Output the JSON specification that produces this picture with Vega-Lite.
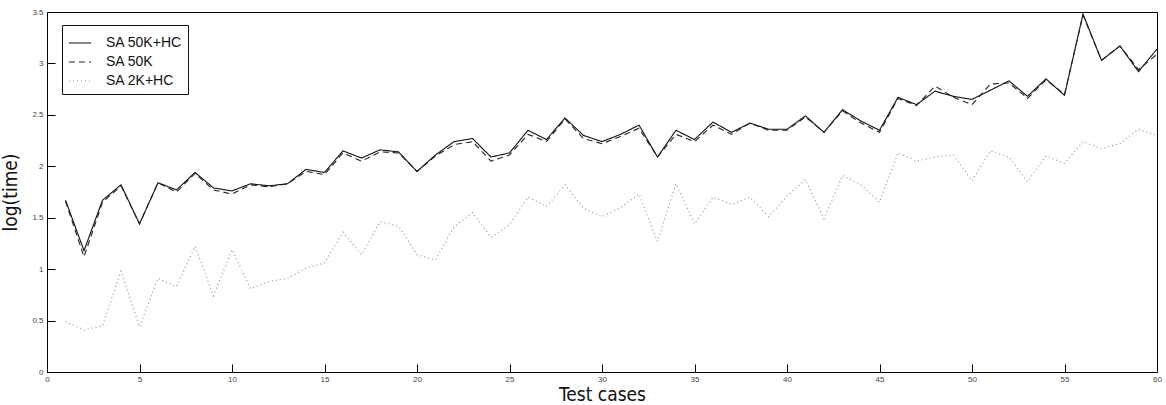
{
  "$schema": "https://vega.github.io/schema/vega-lite/v6.json",
  "width": 1110,
  "height": 360,
  "autosize": {"type": "none"},
  "padding": {"left": 47, "top": 12, "right": 9, "bottom": 33},
  "background": "white",
  "config": {
    "view": {"stroke": "black", "strokeWidth": 1},
    "axis": {
      "labelFont": "Liberation Sans",
      "labelFontSize": 8,
      "labelColor": "#444",
      "titleFont": "DejaVu Sans Condensed, Liberation Sans",
      "titleFontSize": 19,
      "titleFontWeight": "normal",
      "titleColor": "#111"
    }
  },
  "data": {"values": [
    {"x":1,"s":"SA 50K+HC","v":1.67},{"x":2,"s":"SA 50K+HC","v":1.18},{"x":3,"s":"SA 50K+HC","v":1.67},{"x":4,"s":"SA 50K+HC","v":1.82},{"x":5,"s":"SA 50K+HC","v":1.44},
    {"x":6,"s":"SA 50K+HC","v":1.84},{"x":7,"s":"SA 50K+HC","v":1.77},{"x":8,"s":"SA 50K+HC","v":1.94},{"x":9,"s":"SA 50K+HC","v":1.79},{"x":10,"s":"SA 50K+HC","v":1.76},
    {"x":11,"s":"SA 50K+HC","v":1.83},{"x":12,"s":"SA 50K+HC","v":1.81},{"x":13,"s":"SA 50K+HC","v":1.83},{"x":14,"s":"SA 50K+HC","v":1.97},{"x":15,"s":"SA 50K+HC","v":1.94},
    {"x":16,"s":"SA 50K+HC","v":2.15},{"x":17,"s":"SA 50K+HC","v":2.08},{"x":18,"s":"SA 50K+HC","v":2.16},{"x":19,"s":"SA 50K+HC","v":2.14},{"x":20,"s":"SA 50K+HC","v":1.95},
    {"x":21,"s":"SA 50K+HC","v":2.11},{"x":22,"s":"SA 50K+HC","v":2.24},{"x":23,"s":"SA 50K+HC","v":2.27},{"x":24,"s":"SA 50K+HC","v":2.09},{"x":25,"s":"SA 50K+HC","v":2.13},
    {"x":26,"s":"SA 50K+HC","v":2.35},{"x":27,"s":"SA 50K+HC","v":2.26},{"x":28,"s":"SA 50K+HC","v":2.47},{"x":29,"s":"SA 50K+HC","v":2.30},{"x":30,"s":"SA 50K+HC","v":2.24},
    {"x":31,"s":"SA 50K+HC","v":2.31},{"x":32,"s":"SA 50K+HC","v":2.40},{"x":33,"s":"SA 50K+HC","v":2.09},{"x":34,"s":"SA 50K+HC","v":2.35},{"x":35,"s":"SA 50K+HC","v":2.26},
    {"x":36,"s":"SA 50K+HC","v":2.43},{"x":37,"s":"SA 50K+HC","v":2.33},{"x":38,"s":"SA 50K+HC","v":2.42},{"x":39,"s":"SA 50K+HC","v":2.36},{"x":40,"s":"SA 50K+HC","v":2.36},
    {"x":41,"s":"SA 50K+HC","v":2.49},{"x":42,"s":"SA 50K+HC","v":2.33},{"x":43,"s":"SA 50K+HC","v":2.55},{"x":44,"s":"SA 50K+HC","v":2.44},{"x":45,"s":"SA 50K+HC","v":2.35},
    {"x":46,"s":"SA 50K+HC","v":2.67},{"x":47,"s":"SA 50K+HC","v":2.60},{"x":48,"s":"SA 50K+HC","v":2.73},{"x":49,"s":"SA 50K+HC","v":2.68},{"x":50,"s":"SA 50K+HC","v":2.65},
    {"x":51,"s":"SA 50K+HC","v":2.74},{"x":52,"s":"SA 50K+HC","v":2.83},{"x":53,"s":"SA 50K+HC","v":2.68},{"x":54,"s":"SA 50K+HC","v":2.85},{"x":55,"s":"SA 50K+HC","v":2.69},
    {"x":56,"s":"SA 50K+HC","v":3.48},{"x":57,"s":"SA 50K+HC","v":3.03},{"x":58,"s":"SA 50K+HC","v":3.17},{"x":59,"s":"SA 50K+HC","v":2.92},{"x":60,"s":"SA 50K+HC","v":3.14},

    {"x":1,"s":"SA 50K","v":1.66},{"x":2,"s":"SA 50K","v":1.12},{"x":3,"s":"SA 50K","v":1.65},{"x":4,"s":"SA 50K","v":1.81},{"x":5,"s":"SA 50K","v":1.44},
    {"x":6,"s":"SA 50K","v":1.84},{"x":7,"s":"SA 50K","v":1.75},{"x":8,"s":"SA 50K","v":1.93},{"x":9,"s":"SA 50K","v":1.77},{"x":10,"s":"SA 50K","v":1.73},
    {"x":11,"s":"SA 50K","v":1.82},{"x":12,"s":"SA 50K","v":1.80},{"x":13,"s":"SA 50K","v":1.83},{"x":14,"s":"SA 50K","v":1.95},{"x":15,"s":"SA 50K","v":1.92},
    {"x":16,"s":"SA 50K","v":2.13},{"x":17,"s":"SA 50K","v":2.05},{"x":18,"s":"SA 50K","v":2.14},{"x":19,"s":"SA 50K","v":2.13},{"x":20,"s":"SA 50K","v":1.95},
    {"x":21,"s":"SA 50K","v":2.10},{"x":22,"s":"SA 50K","v":2.21},{"x":23,"s":"SA 50K","v":2.24},{"x":24,"s":"SA 50K","v":2.05},{"x":25,"s":"SA 50K","v":2.11},
    {"x":26,"s":"SA 50K","v":2.31},{"x":27,"s":"SA 50K","v":2.24},{"x":28,"s":"SA 50K","v":2.46},{"x":29,"s":"SA 50K","v":2.27},{"x":30,"s":"SA 50K","v":2.22},
    {"x":31,"s":"SA 50K","v":2.29},{"x":32,"s":"SA 50K","v":2.37},{"x":33,"s":"SA 50K","v":2.09},{"x":34,"s":"SA 50K","v":2.31},{"x":35,"s":"SA 50K","v":2.24},
    {"x":36,"s":"SA 50K","v":2.40},{"x":37,"s":"SA 50K","v":2.31},{"x":38,"s":"SA 50K","v":2.42},{"x":39,"s":"SA 50K","v":2.35},{"x":40,"s":"SA 50K","v":2.35},
    {"x":41,"s":"SA 50K","v":2.48},{"x":42,"s":"SA 50K","v":2.33},{"x":43,"s":"SA 50K","v":2.54},{"x":44,"s":"SA 50K","v":2.42},{"x":45,"s":"SA 50K","v":2.33},
    {"x":46,"s":"SA 50K","v":2.66},{"x":47,"s":"SA 50K","v":2.59},{"x":48,"s":"SA 50K","v":2.78},{"x":49,"s":"SA 50K","v":2.67},{"x":50,"s":"SA 50K","v":2.60},
    {"x":51,"s":"SA 50K","v":2.80},{"x":52,"s":"SA 50K","v":2.81},{"x":53,"s":"SA 50K","v":2.66},{"x":54,"s":"SA 50K","v":2.84},{"x":55,"s":"SA 50K","v":2.70},
    {"x":56,"s":"SA 50K","v":3.47},{"x":57,"s":"SA 50K","v":3.03},{"x":58,"s":"SA 50K","v":3.17},{"x":59,"s":"SA 50K","v":2.94},{"x":60,"s":"SA 50K","v":3.09},

    {"x":1,"s":"SA 2K+HC","v":0.49},{"x":2,"s":"SA 2K+HC","v":0.41},{"x":3,"s":"SA 2K+HC","v":0.45},{"x":4,"s":"SA 2K+HC","v":0.98},{"x":5,"s":"SA 2K+HC","v":0.44},
    {"x":6,"s":"SA 2K+HC","v":0.91},{"x":7,"s":"SA 2K+HC","v":0.83},{"x":8,"s":"SA 2K+HC","v":1.22},{"x":9,"s":"SA 2K+HC","v":0.74},{"x":10,"s":"SA 2K+HC","v":1.19},
    {"x":11,"s":"SA 2K+HC","v":0.81},{"x":12,"s":"SA 2K+HC","v":0.88},{"x":13,"s":"SA 2K+HC","v":0.91},{"x":14,"s":"SA 2K+HC","v":1.01},{"x":15,"s":"SA 2K+HC","v":1.06},
    {"x":16,"s":"SA 2K+HC","v":1.36},{"x":17,"s":"SA 2K+HC","v":1.14},{"x":18,"s":"SA 2K+HC","v":1.46},{"x":19,"s":"SA 2K+HC","v":1.42},{"x":20,"s":"SA 2K+HC","v":1.14},
    {"x":21,"s":"SA 2K+HC","v":1.09},{"x":22,"s":"SA 2K+HC","v":1.41},{"x":23,"s":"SA 2K+HC","v":1.55},{"x":24,"s":"SA 2K+HC","v":1.31},{"x":25,"s":"SA 2K+HC","v":1.43},
    {"x":26,"s":"SA 2K+HC","v":1.70},{"x":27,"s":"SA 2K+HC","v":1.61},{"x":28,"s":"SA 2K+HC","v":1.82},{"x":29,"s":"SA 2K+HC","v":1.59},{"x":30,"s":"SA 2K+HC","v":1.51},
    {"x":31,"s":"SA 2K+HC","v":1.60},{"x":32,"s":"SA 2K+HC","v":1.73},{"x":33,"s":"SA 2K+HC","v":1.27},{"x":34,"s":"SA 2K+HC","v":1.83},{"x":35,"s":"SA 2K+HC","v":1.44},
    {"x":36,"s":"SA 2K+HC","v":1.70},{"x":37,"s":"SA 2K+HC","v":1.63},{"x":38,"s":"SA 2K+HC","v":1.70},{"x":39,"s":"SA 2K+HC","v":1.51},{"x":40,"s":"SA 2K+HC","v":1.71},
    {"x":41,"s":"SA 2K+HC","v":1.87},{"x":42,"s":"SA 2K+HC","v":1.49},{"x":43,"s":"SA 2K+HC","v":1.91},{"x":44,"s":"SA 2K+HC","v":1.82},{"x":45,"s":"SA 2K+HC","v":1.65},
    {"x":46,"s":"SA 2K+HC","v":2.13},{"x":47,"s":"SA 2K+HC","v":2.05},{"x":48,"s":"SA 2K+HC","v":2.09},{"x":49,"s":"SA 2K+HC","v":2.11},{"x":50,"s":"SA 2K+HC","v":1.86},
    {"x":51,"s":"SA 2K+HC","v":2.15},{"x":52,"s":"SA 2K+HC","v":2.09},{"x":53,"s":"SA 2K+HC","v":1.85},{"x":54,"s":"SA 2K+HC","v":2.10},{"x":55,"s":"SA 2K+HC","v":2.03},
    {"x":56,"s":"SA 2K+HC","v":2.24},{"x":57,"s":"SA 2K+HC","v":2.17},{"x":58,"s":"SA 2K+HC","v":2.22},{"x":59,"s":"SA 2K+HC","v":2.36},{"x":60,"s":"SA 2K+HC","v":2.30}
  ]},
  "mark": {"type": "line", "strokeWidth": 1.1},
  "encoding": {
    "x": {"field": "x", "type": "quantitative", "scale": {"domain": [0, 60], "nice": false},
          "axis": {"orient": "bottom", "title": "Test cases", "domain": false, "grid": false,
                   "ticks": true, "tickSize": -8, "tickColor": "#000000", "tickOpacity": 1, "tickWidth": 1,
                   "values": [0,5,10,15,20,25,30,35,40,45,50,55,60], "labelPadding": 11, "titlePadding": 2, "labelFlush": false}},
    "y": {"field": "v", "type": "quantitative", "scale": {"domain": [0, 3.5], "nice": false},
          "axis": {"orient": "left", "title": "log(time)", "domain": false, "grid": false,
                   "ticks": true, "tickSize": -8, "tickColor": "#000000", "tickOpacity": 1, "tickWidth": 1,
                   "values": [0,0.5,1,1.5,2,2.5,3,3.5], "format": "~g", "labelPadding": 12, "titlePadding": 11, "labelFlush": false}},
    "color": {"field": "s", "type": "nominal", "sort": ["SA 50K+HC", "SA 50K", "SA 2K+HC"],
              "scale": {"domain": ["SA 50K+HC", "SA 50K", "SA 2K+HC"], "range": ["#111111", "#222222", "#8a8a8a"]},
              "legend": {"title": null, "orient": "none", "legendX": 15, "legendY": 13, "strokeColor": "#111", "fillColor": "white",
                         "padding": 6, "symbolType": "stroke", "symbolSize": 484, "symbolStrokeWidth": 1.1,
                         "labelFont": "Liberation Sans", "labelFontSize": 14, "labelColor": "#111", "rowPadding": 0, "labelOffset": 14}},
    "strokeDash": {"field": "s", "type": "nominal", "sort": ["SA 50K+HC", "SA 50K", "SA 2K+HC"],
                   "scale": {"domain": ["SA 50K+HC", "SA 50K", "SA 2K+HC"], "range": [[1, 0], [6, 4], [1, 3]]},
                   "legend": {"title": null}}
  }
}
